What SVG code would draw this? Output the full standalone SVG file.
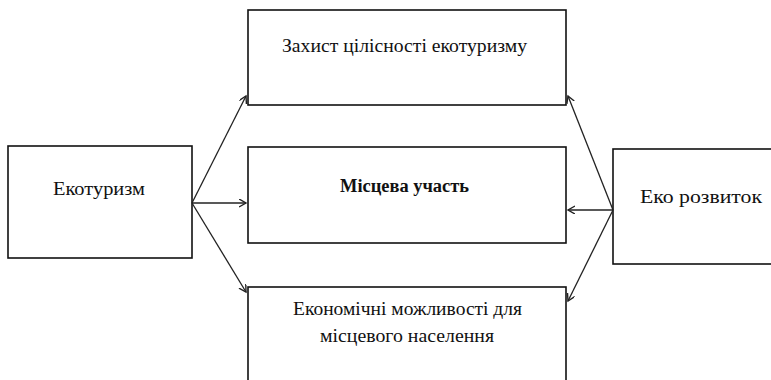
<svg xmlns="http://www.w3.org/2000/svg" width="771" height="380" viewBox="0 0 771 380">
<defs>
<style>
.box{fill:#fff;stroke:#111;stroke-width:1.6}
.lbl{font-family:"Liberation Serif","DejaVu Serif","Times New Roman",serif;font-size:18px;fill:#111}
.bold{font-weight:bold}
.con{stroke:#222;stroke-width:1.3;fill:none;marker-end:url(#ah)}
</style>
<marker id="ah" markerWidth="10" markerHeight="10" refX="7" refY="4" orient="auto" markerUnits="userSpaceOnUse">
<path d="M0,0 L7,4 L0,8" fill="none" stroke="#222" stroke-width="1.4"/>
</marker>
</defs>
<rect width="771" height="380" fill="#fff"/>
<g id="n-ekoturyzm">
<rect class="box" x="8" y="146" width="184" height="112"/>
<text class="lbl" x="53" y="195" textLength="92" lengthAdjust="spacingAndGlyphs">Екотуризм</text>
</g>
<g id="n-zakhyst">
<rect class="box" x="248" y="10" width="318" height="95"/>
<text class="lbl" x="282" y="52" textLength="245" lengthAdjust="spacingAndGlyphs">Захист цілісності екотуризму</text>
</g>
<g id="n-mistseva">
<rect class="box" x="248" y="147" width="318" height="96"/>
<text class="lbl bold" x="340" y="192" textLength="129" lengthAdjust="spacingAndGlyphs">Місцева участь</text>
</g>
<g id="n-ekonomichni">
<rect class="box" x="248" y="287" width="318" height="110"/>
<text class="lbl" x="293" y="315" textLength="229" lengthAdjust="spacingAndGlyphs">Економічні можливості для</text>
<text class="lbl" x="320" y="342" textLength="174" lengthAdjust="spacingAndGlyphs">місцевого населення</text>
</g>
<g id="n-eko-rozvytok">
<rect class="box" x="613" y="149" width="170" height="115"/>
<text class="lbl" x="640" y="203" textLength="122" lengthAdjust="spacingAndGlyphs">Еко розвиток</text>
</g>
<g id="connectors">
<line class="con" x1="192" y1="203" x2="246" y2="96"/>
<line class="con" x1="192" y1="203" x2="246" y2="203"/>
<line class="con" x1="192" y1="203" x2="246" y2="292"/>
<line class="con" x1="613" y1="210" x2="568" y2="96"/>
<line class="con" x1="613" y1="210" x2="568" y2="210"/>
<line class="con" x1="613" y1="210" x2="568" y2="301"/>
</g>
</svg>
